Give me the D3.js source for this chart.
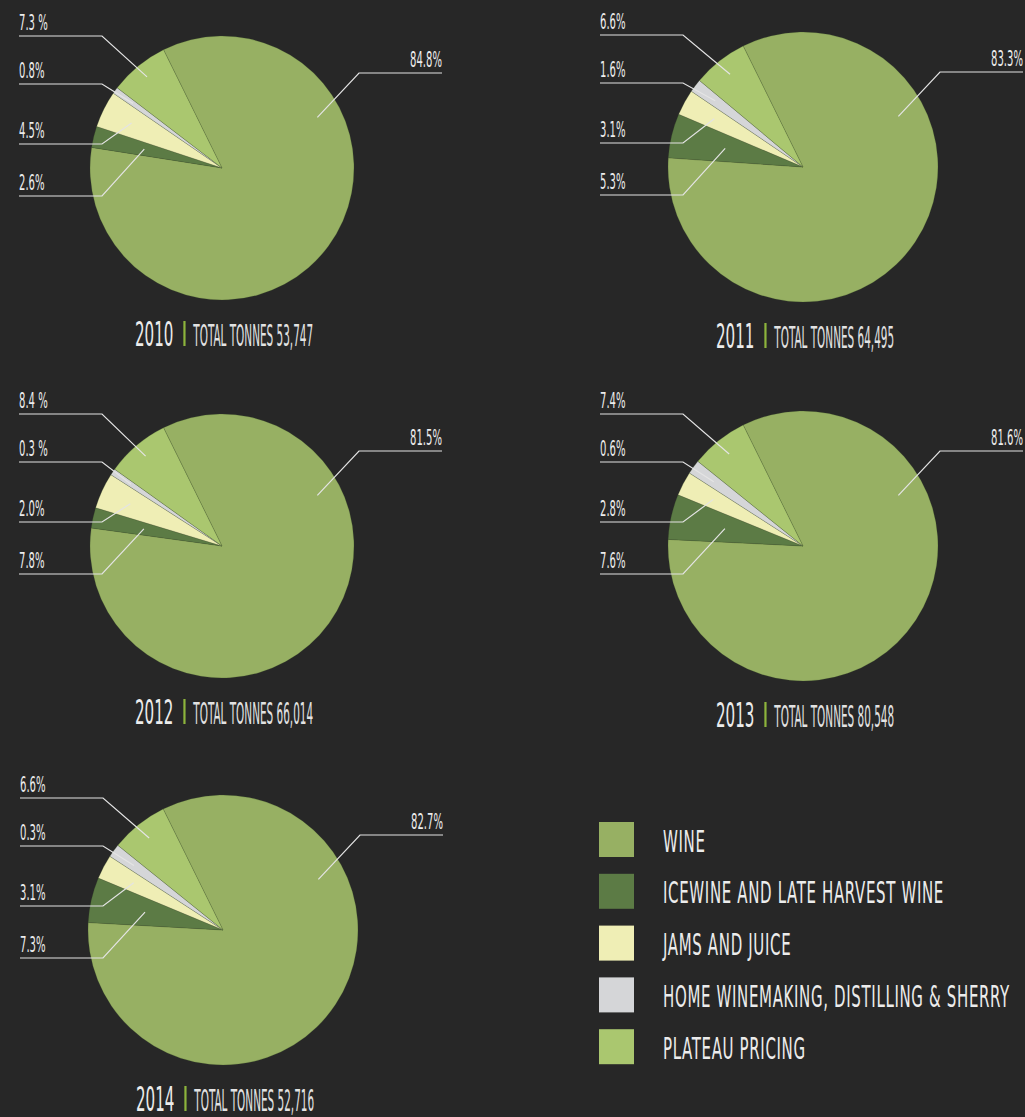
<!DOCTYPE html>
<html>
<head>
<meta charset="utf-8">
<script src="https://cdn.jsdelivr.net/npm/d3@7"></script>
<style>
  html, body { margin: 0; padding: 0; background: #272727; }
  svg { display: block; }
  text { font-family: "DejaVu Sans Condensed", "Liberation Sans Narrow", sans-serif; fill: #ececec; }
</style>
</head>
<body>
<div id="chart"></div>
<script>
// ---- data ----
const years = [2010, 2011, 2012, 2013, 2014]
const totals = ["53,747", "64,495", "66,014", "80,548", "52,716"]
const categories = ["WINE", "ICEWINE AND LATE HARVEST WINE", "JAMS AND JUICE",
    "HOME WINEMAKING, DISTILLING & SHERRY", "PLATEAU PRICING"]

// printed percentages (as written on the labels)
const winePct = ["84.8%", "83.3%", "81.5%", "81.6%", "82.7%"]
const icewinePct = ["2.6%", "5.3%", "7.8%", "7.6%", "7.3%"]
const jamsPct = ["4.5%", "3.1%", "2.0%", "2.8%", "3.1%"]
const homePct = ["0.8%", "1.6%", "0.3 %", "0.6%", "0.3%"]
const plateauPct = ["7.3 %", "6.6%", "8.4 %", "7.4%", "6.6%"]

// wedge shares as drawn (measured from the slice angles)
const wineShare = [84.8, 83.3, 84.4, 83.0, 83.1]
const icewineShare = [2.6, 5.3, 2.5, 5.4, 5.4]
const jamsShare = [4.5, 3.1, 4.4, 2.9, 2.9]
const homeShare = [0.8, 1.6, 0.8, 1.7, 1.6]
const plateauShare = [7.3, 6.6, 7.8, 6.9, 6.9]

const colors = ["#97b063", "#5c7b45", "#efeeb5", "#d5d6d8", "#aac76f"]

// ---- layout ----
const W = 1025, H = 1117
const centers = [[222, 168], [803, 167], [222, 546], [803, 546], [223, 930]]
const radii = [132, 135, 132, 135, 135]
const startDeg = -26.3
const leftRows = { 4: -132, 3: -84, 2: -24, 1: 28 }   // category index -> line y offset
const leaderR = { 4: 118, 3: 110, 2: 101, 1: 80 }
const SX_LABEL = 0.52, SX_TITLE = 0.49, SX_TONNES = 0.39, SX_LEGEND = 0.545

const svg = d3.select("#chart").append("svg")
    .attr("width", W)
    .attr("height", H)

svg.append("rect").attr("width", W).attr("height", H).attr("fill", "#272727")

const toRad = d => d * Math.PI / 180

const pie = d3.pie()
    .sort(null)
    .value(d => d)
    .startAngle(toRad(startDeg))
    .endAngle(toRad(startDeg + 360))

function condText(g, x, y, str, size, sx, anchor) {
    return g.append("text")
        .attr("transform", "translate(" + x + "," + y + ") scale(" + sx + ",1)")
        .attr("text-anchor", anchor || "start")
        .style("font-size", size + "px")
        .text(str)
}

years.forEach((year, i) => {
    const [cx, cy] = centers[i]
    const r = radii[i]
    const shares = [wineShare[i], icewineShare[i], jamsShare[i], homeShare[i], plateauShare[i]]
    const labels = [winePct[i], icewinePct[i], jamsPct[i], homePct[i], plateauPct[i]]
    const arcs = pie(shares)

    const g = svg.append("g")
        .attr("transform", "translate(" + cx + "," + cy + ")")

    const arc = d3.arc().innerRadius(0).outerRadius(r)

    g.selectAll("path.slice")
        .data(arcs)
        .enter()
        .append("path")
        .attr("class", "slice")
        .attr("d", arc)
        .attr("fill", (d, k) => colors[k])
        .attr("stroke", "rgba(60,80,40,0.35)")
        .attr("stroke-width", 0.6)
        .attr("stroke-linejoin", "round")

    // left labels
    const lines = g.append("g")
    ;[4, 3, 2, 1].forEach(k => {
        const a = arcs[k]
        const mid = (a.startAngle + a.endAngle) / 2
        const rr = leaderR[k]
        const ex = Math.sin(mid) * rr, ey = -Math.cos(mid) * rr
        const ly = leftRows[k]
        lines.append("polyline")
            .attr("points", [[-203, ly], [-120, ly], [ex, ey]].map(p => p.join(",")).join(" "))
            .attr("fill", "none")
            .attr("stroke", "#e4e4e4")
            .attr("stroke-width", 1.2)
        condText(g, -203, ly - 6.5, labels[k], 21.5, SX_LABEL)
    })

    // wine label on the right
    const wa = toRad(62)
    const wx = Math.sin(wa) * 108, wy = -Math.cos(wa) * 108
    lines.append("polyline")
        .attr("points", [[220, -95], [137, -95], [wx, wy]].map(p => p.join(",")).join(" "))
        .attr("fill", "none")
        .attr("stroke", "#e4e4e4")
        .attr("stroke-width", 1.2)
    condText(g, 220, -101.5, labels[0], 21.5, SX_LABEL, "end")

    // title
    const tg = g.append("g")
    const by = Math.min(r + 46, H - cy - 6)
    const yt = condText(tg, 0, by, String(year), 34.3, SX_TITLE)
    const yw = yt.node().getComputedTextLength() * SX_TITLE
    const barX = yw + 10
    tg.append("rect")
        .attr("x", barX).attr("y", by - 25)
        .attr("width", 2.2).attr("height", 25)
        .attr("fill", "#8db43c")
    const tt = condText(tg, barX + 10, by, "TOTAL TONNES " + totals[i], 29.8, SX_TONNES)
        .style("fill", "#e2e2e2")
    const tw = barX + 10 + tt.node().getComputedTextLength() * SX_TONNES
    tg.attr("transform", "translate(" + (-tw / 2 + 2) + ",0)")
})

// legend
const legend = svg.append("g").attr("transform", "translate(599,822)")
categories.forEach((c, k) => {
    const row = legend.append("g").attr("transform", "translate(0," + (k * 51.8) + ")")
    row.append("rect")
        .attr("width", 35).attr("height", 35)
        .attr("fill", colors[k])
    condText(row, 64, 29.5, c, 30.6, SX_LEGEND)
        .style("letter-spacing", "1.2px")
})
</script>
</body>
</html>
